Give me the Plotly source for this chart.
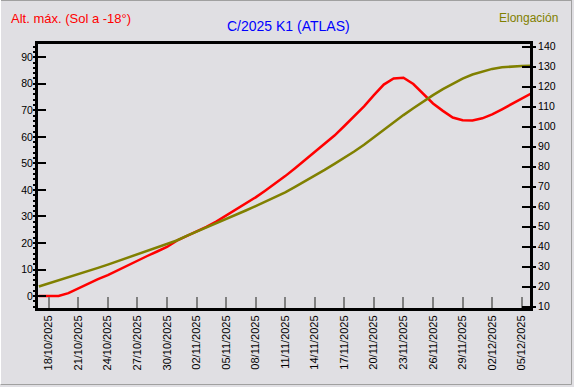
import plotly.graph_objects as go
import pandas as pd

# ---- data (daily values) ----
dates = pd.date_range("2025-10-17", "2025-12-06", freq="D").strftime("%Y-%m-%d").tolist()

alt_max = [0, 0, 0, 1.1, 2.95, 4.8, 6.35, 7.9, 9.75, 11.6, 13.4, 15.1, 16.8, 18.5,
           20.9, 22.6, 24.2, 26.1, 28.05, 30.3, 32.5, 34.7, 37.2, 39.8, 42.4, 45.2,
           48.2, 51.2, 54.3, 57.4, 60.5, 64.1, 67.7, 71.5, 75.7, 79.7, 82.0, 82.3,
           79.9, 76.1, 72.6, 69.8, 67.3, 66.3, 66.2, 67.0, 68.5, 70.4, 72.3, 74.4,
           76.4]

elongacion = [20.1, 21.6, 23.1, 24.6, 26.15, 27.8, 29.4, 31.05, 32.8, 34.5, 36.2,
              37.9, 39.6, 41.2, 43.1, 45.4, 47.5, 49.4, 51.45, 53.65, 55.85, 58.1,
              60.3, 62.5, 64.75, 67.2, 69.9, 72.6, 75.4, 78.4, 81.4, 84.4, 87.6,
              91.0, 94.8, 98.6, 102.3, 105.8, 109.2, 112.6, 115.8, 118.8, 121.6,
              124.0, 126.1, 127.6, 128.9, 129.7, 130.2, 130.4, 130.5]

title_text = "C/2025 K1 (ATLAS)"
left_label = "Alt. máx. (Sol a -18°)"
right_label = "Elongación"

BG = "#E0DFE3"
FONT = "Liberation Sans, Arial, sans-serif"

fig = go.Figure()
fig.add_trace(go.Scatter(x=dates, y=elongacion, yaxis="y2", mode="lines",
                         line=dict(color="#808000", width=2.5), hoverinfo="skip"))
fig.add_trace(go.Scatter(x=dates, y=alt_max, yaxis="y", mode="lines",
                         line=dict(color="#FF0000", width=2.5), hoverinfo="skip"))

W, H = 574, 387
L, R, T, B = 38, 530, 44, 308

def px(x):
    return (x - L) / (R - L)

def py(y):
    return (B - y) / (B - T)

fig.update_layout(
    width=W, height=H,
    margin=dict(l=L, r=W - R, t=T, b=H - B, pad=0),
    paper_bgcolor=BG, plot_bgcolor=BG,
    showlegend=False,
    font=dict(family=FONT, size=11, color="#000000"),
    xaxis=dict(
        type="date",
        range=["2025-10-16 21:56", "2025-12-05 20:10"],
        tick0="2025-10-18", dtick=3 * 86400000,
        tickformat="%d/%m/%Y", tickangle=-90,
        ticks="inside", ticklen=11, tickcolor="#808080", tickwidth=1.5,
        showline=True, linecolor="#000000", linewidth=3, mirror=True,
        showgrid=False, zeroline=False,
        tickfont=dict(family=FONT, size=11, color="#000000"),
    ),
    yaxis=dict(
        range=[-4.5, 95], tick0=0, dtick=10,
        ticks="inside", ticklen=8, tickcolor="#000000", tickwidth=1.5,
        minor=dict(ticks="outside", ticklen=2, dtick=2, tickcolor="#000000"),
        showline=True, linecolor="#000000", linewidth=3, mirror=True,
        showgrid=False, zeroline=False,
        tickfont=dict(family=FONT, size=10.5, color="#000000"),
    ),
    yaxis2=dict(
        overlaying="y", side="right",
        range=[9.35, 141.35], tick0=10, dtick=10,
        ticks="outside", ticklen=5, tickcolor="#000000", tickwidth=1.5,
        showline=False, showgrid=False, zeroline=False,
        tickfont=dict(family=FONT, size=10.5, color="#000000"),
    ),
    yaxis3=dict(
        overlaying="y", side="right",
        range=[9.35, 141.35], tick0=10, dtick=10,
        ticks="inside", ticklen=8, tickcolor="#000000", tickwidth=1.5,
        showticklabels=False, showline=False, showgrid=False, zeroline=False,
    ),
    annotations=[
        dict(text=left_label, xref="paper", yref="paper", x=px(9), y=py(19),
             xanchor="left", yanchor="middle", showarrow=False,
             font=dict(family=FONT, size=13, color="#FF0000")),
        dict(text=title_text, xref="paper", yref="paper", x=px(288), y=py(26),
             xanchor="center", yanchor="middle", showarrow=False,
             font=dict(family=FONT, size=14, color="#0000FF")),
        dict(text=right_label, xref="paper", yref="paper", x=px(560), y=py(18),
             xanchor="right", yanchor="middle", showarrow=False,
             font=dict(family=FONT, size=12, color="#808000")),
    ],
    shapes=[
        dict(type="line", xref="paper", yref="paper", x0=px(571.5), x1=px(571.5),
             y0=py(0), y1=py(384.5), line=dict(color="#A0A0A0", width=1)),
        dict(type="line", xref="paper", yref="paper", x0=px(0), x1=px(571.5),
             y0=py(384.5), y1=py(384.5), line=dict(color="#A0A0A0", width=1)),
        dict(type="line", xref="paper", yref="paper", x0=px(0), x1=px(571.5),
             y0=py(0.5), y1=py(0.5), line=dict(color="#A0A0A0", width=1)),
        dict(type="line", xref="paper", yref="paper", x0=px(0.5), x1=px(0.5),
             y0=py(0), y1=py(384.5), line=dict(color="#FFFFFF", width=1)),
    ],
)

# dummy trace so yaxis3 is drawn
fig.add_trace(go.Scatter(x=[dates[0]], y=[None], yaxis="y3", mode="lines",
                         hoverinfo="skip", showlegend=False))

fig.write_html("out.html", config={"displayModeBar": False},
               post_script="document.body.style.margin='0';document.body.style.overflow='hidden';")
